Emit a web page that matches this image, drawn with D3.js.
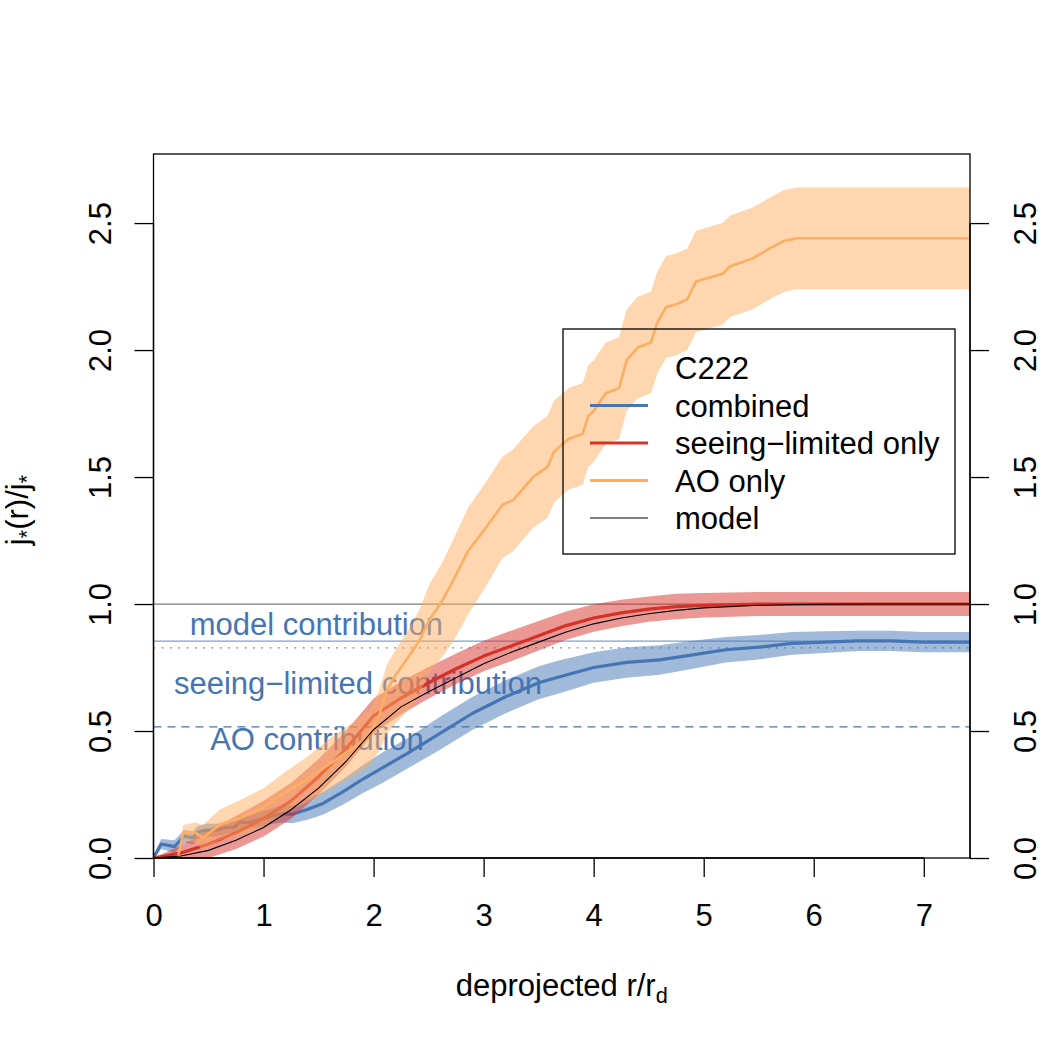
<!DOCTYPE html>
<html>
<head>
<meta charset="utf-8">
<script src="https://cdn.jsdelivr.net/npm/d3@7"></script>
<style>
  html, body { margin: 0; padding: 0; background: #fff; }
  svg { display: block; font-family: "Liberation Sans", Arial, Helvetica, sans-serif; }
</style>
</head>
<body>
<svg id="chart" width="1050" height="1050"></svg>
<script>
// ---------------- data ----------------
const xTicks = [0, 1, 2, 3, 4, 5, 6, 7];
const yTicks = [0, 0.5, 1.0, 1.5, 2.0, 2.5];

// combined (blue)
const combinedR   = [0, 0.07, 0.19, 0.28, 0.36, 0.40, 0.48, 0.57, 0.66, 0.73, 0.78, 0.87, 0.99, 1.08, 1.17, 1.26, 1.39, 1.54, 1.72, 1.9, 2.08, 2.3, 2.6, 2.9, 3.2, 3.5, 3.7, 4.0, 4.3, 4.6, 4.9, 5.2, 5.5, 5.8, 6.1, 6.4, 6.7, 7.0, 7.42];
const combinedJ   = [0, 0.055, 0.045, 0.085, 0.08, 0.10, 0.11, 0.11, 0.12, 0.12, 0.14, 0.14, 0.155, 0.165, 0.175, 0.172, 0.19, 0.215, 0.26, 0.31, 0.355, 0.41, 0.49, 0.57, 0.635, 0.69, 0.715, 0.75, 0.77, 0.78, 0.80, 0.82, 0.83, 0.845, 0.85, 0.855, 0.855, 0.85, 0.85];
const combinedErr = [0.01, 0.02, 0.025, 0.025, 0.025, 0.025, 0.025, 0.025, 0.025, 0.025, 0.025, 0.025, 0.03, 0.03, 0.035, 0.035, 0.04, 0.045, 0.05, 0.055, 0.06, 0.06, 0.065, 0.065, 0.065, 0.065, 0.065, 0.06, 0.06, 0.058, 0.055, 0.05, 0.048, 0.045, 0.043, 0.04, 0.04, 0.04, 0.04];

// seeing-limited only (red)
const seeingR   = [0, 0.25, 0.5, 0.75, 1.0, 1.25, 1.5, 1.75, 2.0, 2.25, 2.5, 2.75, 3.0, 3.25, 3.5, 3.75, 4.0, 4.25, 4.5, 4.75, 5.0, 5.5, 6.0, 7.42];
const seeingJ   = [0, 0.02, 0.055, 0.10, 0.155, 0.225, 0.32, 0.43, 0.56, 0.63, 0.69, 0.745, 0.795, 0.835, 0.875, 0.915, 0.945, 0.965, 0.98, 0.99, 0.995, 1.0, 1.0, 1.0];
const seeingErr = [0, 0.03, 0.055, 0.065, 0.07, 0.07, 0.07, 0.07, 0.068, 0.065, 0.062, 0.06, 0.06, 0.06, 0.058, 0.056, 0.054, 0.052, 0.05, 0.05, 0.048, 0.047, 0.047, 0.047];

// AO only (orange)
const aoR     = [0.22, 0.27, 0.38, 0.45, 0.6, 0.8, 1.0, 1.2, 1.4, 1.6, 1.8, 1.95, 2.05, 2.12, 2.2, 2.33, 2.42, 2.51, 2.62, 2.72, 2.86, 3.02, 3.17, 3.27, 3.45, 3.58, 3.64, 3.77, 3.9, 3.95, 4.0, 4.11, 4.23, 4.3, 4.4, 4.52, 4.58, 4.66, 4.75, 4.85, 4.93, 5.17, 5.24, 5.44, 5.6, 5.73, 5.85, 7.42];
const aoJ     = [0, 0.10, 0.10, 0.08, 0.13, 0.16, 0.20, 0.26, 0.31, 0.37, 0.43, 0.48, 0.56, 0.66, 0.72, 0.80, 0.86, 0.94, 1.01, 1.09, 1.21, 1.30, 1.39, 1.41, 1.50, 1.54, 1.60, 1.65, 1.67, 1.74, 1.76, 1.83, 1.85, 1.96, 2.01, 2.03, 2.11, 2.17, 2.18, 2.20, 2.27, 2.30, 2.33, 2.36, 2.40, 2.43, 2.44, 2.44];
const aoErrHi = [0, 0.03, 0.04, 0.05, 0.06, 0.07, 0.075, 0.08, 0.09, 0.10, 0.10, 0.10, 0.10, 0.10, 0.10, 0.11, 0.12, 0.14, 0.15, 0.16, 0.17, 0.18, 0.19, 0.2, 0.2, 0.2, 0.2, 0.2, 0.2, 0.2, 0.2, 0.2, 0.2, 0.2, 0.2, 0.2, 0.2, 0.2, 0.2, 0.2, 0.2, 0.2, 0.2, 0.2, 0.2, 0.2, 0.2, 0.2];
const aoErrLo = [0, 0.03, 0.04, 0.05, 0.06, 0.07, 0.075, 0.08, 0.09, 0.10, 0.11, 0.12, 0.14, 0.17, 0.19, 0.21, 0.21, 0.21, 0.22, 0.24, 0.25, 0.23, 0.21, 0.2, 0.2, 0.2, 0.2, 0.2, 0.2, 0.2, 0.2, 0.2, 0.2, 0.2, 0.2, 0.2, 0.2, 0.2, 0.2, 0.2, 0.2, 0.2, 0.2, 0.2, 0.2, 0.2, 0.2, 0.2];

// model (black)
const modelR = [0, 0.25, 0.5, 0.75, 1.0, 1.25, 1.5, 1.75, 2.0, 2.25, 2.5, 2.75, 3.0, 3.25, 3.5, 3.75, 4.0, 4.25, 4.5, 4.75, 5.0, 5.5, 6.0, 6.5, 7.42];
const modelJ = [0, 0.008, 0.03, 0.07, 0.12, 0.19, 0.275, 0.38, 0.505, 0.595, 0.655, 0.71, 0.765, 0.81, 0.85, 0.89, 0.922, 0.945, 0.962, 0.975, 0.985, 0.995, 0.999, 1.0, 1.0];

// reference levels
const refLevels = [
  { name: "total",   value: 1.0 },
  { name: "model",   value: 0.854 },
  { name: "seeing",  value: 0.827 },
  { name: "ao",      value: 0.516 }
];
const contribLabels = ["model contribution", "seeing\u2212limited contribution", "AO contribution"];
const legendTitle = "C222";
const legendLabels = ["combined", "seeing\u2212limited only", "AO only", "model"];

// ---------------- layout ----------------
const C = { blue: "#4575B4", red: "#D73027", orange: "#FDAE61", black: "#000000" };
const svg = d3.select("#chart");
const L = 153.5, R = 970, T = 154, B = 858;
const x = d3.scaleLinear().domain([0, 7.42]).range([L, R]);
const y = d3.scaleLinear().domain([0, 2.772]).range([B, T]);
const FS = 31;

function zipSeries(rs, js, lo, hi) { return rs.map((r, i) => ({ r, j: js[i], lo: lo ? lo[i] : 0, hi: hi ? hi[i] : 0 })); }
const combined = zipSeries(combinedR, combinedJ, combinedErr, combinedErr);
const seeing = zipSeries(seeingR, seeingJ, seeingErr, seeingErr);
const ao = zipSeries(aoR, aoJ, aoErrLo, aoErrHi);
const model = zipSeries(modelR, modelJ, null, null);

svg.append("defs").append("clipPath").attr("id", "plotclip")
  .append("rect").attr("x", L).attr("y", T).attr("width", R - L).attr("height", B - T);

const plot = svg.append("g").attr("clip-path", "url(#plotclip)");

// reference lines
const refStyle = {
  total:  { stroke: "#7a7a7a", dash: null, w: 1.3 },
  model:  { stroke: "#7d9fd0", dash: null, w: 1.2 },
  seeing: { stroke: C.blue, dash: "1.6,6.7", w: 1.2 },
  ao:     { stroke: C.blue, dash: "8,6", w: 1.2 }
};
plot.selectAll("line.ref").data(refLevels).enter().append("line")
  .attr("x1", L).attr("x2", R)
  .attr("y1", d => y(d.value)).attr("y2", d => y(d.value))
  .attr("stroke", d => refStyle[d.name].stroke)
  .attr("stroke-width", d => refStyle[d.name].w)
  .attr("stroke-dasharray", d => refStyle[d.name].dash);

// contribution labels (drawn under the bands)
const labPos = [ { r: 1.481, j: 0.878 }, { r: 1.858, j: 0.645 }, { r: 1.486, j: 0.425 } ];
plot.selectAll("text.contrib").data(contribLabels).enter().append("text")
  .attr("x", (d, i) => x(labPos[i].r)).attr("y", (d, i) => y(labPos[i].j))
  .attr("text-anchor", "middle").attr("font-size", FS).attr("fill", C.blue)
  .text(d => d);

const area = d3.area().x(d => x(d.r)).y0(d => y(Math.max(0, d.j - d.lo))).y1(d => y(d.j + d.hi));
const line = d3.line().x(d => x(d.r)).y(d => y(d.j));

const series = [
  { data: combined, color: C.blue, w: 3.2 },
  { data: seeing, color: C.red, w: 3.2 },
  { data: ao, color: C.orange, w: 2.6 }
];
series.forEach(s => {
  plot.append("path").datum(s.data).attr("d", area).attr("fill", s.color).attr("fill-opacity", 0.5).attr("stroke", "none");
  plot.append("path").datum(s.data).attr("d", line).attr("fill", "none").attr("stroke", s.color).attr("stroke-width", s.w).attr("stroke-linejoin", "round");
});
plot.append("path").datum(model).attr("d", line).attr("fill", "none").attr("stroke", C.black).attr("stroke-width", 1.1);

// box
svg.append("rect").attr("x", L).attr("y", T).attr("width", R - L).attr("height", B - T)
  .attr("fill", "none").attr("stroke", "#000").attr("stroke-width", 1.3);

// axes
const tickLen = 19;
const xAxis = svg.append("g").attr("transform", `translate(0,${B})`)
  .call(d3.axisBottom(x).tickValues(xTicks).tickSize(tickLen).tickFormat(d3.format("d")));
xAxis.select(".domain").attr("d", `M${x(0)},0H${x(7)}`).attr("stroke-width", 1.3);
xAxis.selectAll(".tick line").attr("stroke-width", 1.3);
xAxis.selectAll(".tick text").attr("y", 68).attr("dy", null).attr("font-size", FS).attr("font-family", null).attr("fill", "#000");

const yLeft = svg.append("g").attr("transform", `translate(${L},0)`)
  .call(d3.axisLeft(y).tickValues(yTicks).tickSize(tickLen).tickFormat(d3.format(".1f")));
yLeft.select(".domain").attr("d", `M0,${y(0)}V${y(2.5)}`).attr("stroke-width", 1.3);
yLeft.selectAll(".tick line").attr("stroke-width", 1.3);
yLeft.selectAll(".tick text").attr("x", null).attr("dy", null).attr("y", null)
  .attr("transform", "translate(-43,0) rotate(-90)").attr("text-anchor", "middle")
  .attr("font-size", FS).attr("font-family", null).attr("fill", "#000");

const yRight = svg.append("g").attr("transform", `translate(${R},0)`)
  .call(d3.axisRight(y).tickValues(yTicks).tickSize(tickLen).tickFormat(d3.format(".1f")));
yRight.select(".domain").attr("d", `M0,${y(0)}V${y(2.5)}`).attr("stroke-width", 1.3);
yRight.selectAll(".tick line").attr("stroke-width", 1.3);
yRight.selectAll(".tick text").attr("x", null).attr("dy", null).attr("y", null)
  .attr("transform", "translate(66,0) rotate(-90)").attr("text-anchor", "middle")
  .attr("font-size", FS).attr("font-family", null).attr("fill", "#000");

// axis titles
const xt = svg.append("text").attr("x", (L + R) / 2).attr("y", 996).attr("text-anchor", "middle").attr("font-size", FS);
xt.append("tspan").text("deprojected r/r");
xt.append("tspan").attr("font-size", FS * 0.7).attr("dy", 7).text("d");

const yt = svg.append("text").attr("transform", `translate(28,${(T + B) / 2 + 4}) rotate(-90)`).attr("text-anchor", "middle").attr("font-size", FS);
yt.append("tspan").text("j");
yt.append("tspan").attr("font-size", FS * 0.7).attr("dy", 6).text("*");
yt.append("tspan").attr("dy", -6).text("(r)/j");
yt.append("tspan").attr("font-size", FS * 0.7).attr("dy", 6).text("*");

// legend
const lg = svg.append("g");
lg.append("rect").attr("x", 563).attr("y", 329).attr("width", 392).attr("height", 225)
  .attr("fill", "none").attr("stroke", "#000").attr("stroke-width", 1.3);
const rowY = i => 368 + i * 37.5;
lg.append("text").attr("x", 675).attr("y", rowY(0) + 11).attr("font-size", FS).text(legendTitle);
const legColors = [C.blue, C.red, C.orange, C.black];
const legW = [3.2, 3.2, 3.2, 1.1];
legendLabels.forEach((lab, i) => {
  lg.append("line").attr("x1", 590).attr("x2", 648).attr("y1", rowY(i + 1)).attr("y2", rowY(i + 1))
    .attr("stroke", legColors[i]).attr("stroke-width", legW[i]);
  lg.append("text").attr("x", 675).attr("y", rowY(i + 1) + 11).attr("font-size", FS).text(lab);
});
</script>
</body>
</html>
